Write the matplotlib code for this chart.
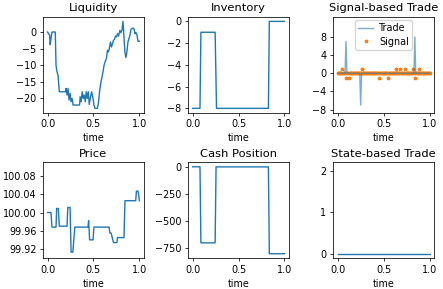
import matplotlib
matplotlib.use("Agg")
import matplotlib.pyplot as plt
import numpy as np

plt.rcParams["font.size"] = 6.9
plt.rcParams["axes.linewidth"] = 0.55
plt.rcParams["xtick.major.size"] = 2.4
plt.rcParams["ytick.major.size"] = 2.4
plt.rcParams["xtick.major.width"] = 0.55
plt.rcParams["ytick.major.width"] = 0.55
plt.rcParams["xtick.major.pad"] = 2.4
plt.rcParams["ytick.major.pad"] = 2.4
plt.rcParams["axes.labelpad"] = 2.8
plt.rcParams["axes.titlepad"] = 4.2
plt.rcParams["lines.linewidth"] = 1.0

# Liquidity
liq_t = [0.000, 0.011, 0.022, 0.029, 0.037, 0.048, 0.073, 0.084, 0.092, 0.103,
         0.114, 0.128, 0.194, 0.201, 0.212, 0.223, 0.234, 0.245, 0.256, 0.267,
         0.278, 0.348, 0.355, 0.366, 0.377, 0.388, 0.399, 0.410, 0.421, 0.432,
         0.443, 0.454, 0.465, 0.480, 0.495, 0.505, 0.516, 0.542, 0.553, 0.568,
         0.582, 0.593, 0.604, 0.615, 0.626, 0.641, 0.652, 0.663, 0.674, 0.685,
         0.696, 0.707, 0.718, 0.729, 0.740, 0.751, 0.762, 0.773, 0.788, 0.799,
         0.810, 0.821, 0.828, 0.835, 0.842, 0.853, 0.864, 0.875, 0.886, 0.897,
         0.908, 0.930, 0.941, 0.952, 0.963, 0.974, 0.985, 1.000]
liq = [0, -0.5, -1, -3.8, -2, 0, 0, 0, -10, -12,
       -13, -18, -18, -17, -19, -17, -20.5, -18.5, -21, -20,
       -22, -22, -19.5, -21, -18, -20, -19, -21, -18, -20,
       -18, -21.8, -20, -18, -20, -22, -23, -23, -21.5, -17.5,
       -15, -13.5, -12, -10, -9, -8, -5.5, -6, -4.8, -3,
       -4.5, -3.5, -2.5, -2.2, -1.2, -1.5, -0.5, -1.2, 0.5, -0.2,
       0.5, 3.2, 0.5, -3, -6, -7.7, -6, -3, -2, -1,
       0.8, 1.2, 1, -0.5, -0.2, -1, -2.8, -2.8]

# Inventory
inv_t = [0, 0.08, 0.09, 0.245, 0.26, 0.825, 0.835, 1.0]
inv = [-8, -8, -1, -1, -8, -8, 0, 0]

# Price
price_t = [0, 0.037, 0.048, 0.092, 0.099, 0.117, 0.128, 0.212, 0.220, 0.245,
           0.256, 0.275, 0.297, 0.440, 0.447, 0.458, 0.495, 0.505, 0.670, 0.678,
           0.692, 0.718, 0.755, 0.762, 0.832, 0.843, 0.960, 0.967, 0.985, 1.0]
price = [100.00, 100.00, 99.968, 99.968, 100.009, 100.009, 99.970, 99.970, 100.011, 100.011,
         99.913, 99.913, 99.968, 99.968, 99.982, 99.940, 99.940, 99.968, 99.968, 99.955,
         99.955, 99.934, 99.934, 99.945, 99.945, 100.026, 100.026, 100.047, 100.047, 100.026]

# Cash position
cash_t = [0, 0.08, 0.09, 0.245, 0.255, 0.825, 0.835, 1.0]
cash = [0, 0, -700, -700, -1, -1, -800, -800]

# Signal-based trade and signal on the time grid
grid_t = np.linspace(0, 1, 101)
trade = [0, 0, 0, 0, 0, 0, 0, 0, 0, 7,
         0, 0, 0, 0, 0, 0, 0, 0, 0, 0,
         0, 0, 0, 0, 0, -7, 0, 0, 0, 0,
         0, 0, 0, 0, 0, 0, 0, 0, 0, 0,
         0, 0, 0, 0, 0, 0, 0, 0, 0, 0,
         0, 0, 0, 0, 0, 0, 0, 0, 0, 0,
         0, 0, 0, 0, 0, 0, 0, 0, 0, 0,
         0, 0, 0, 0, 0, 0, 0, 0, 0, 0,
         0, 0, 0, 0, 8, 0, 0, 0, 0, 0,
         0, 0, 0, 0, 0, 0, 0, 0, 0, 0,
         0]
signal = [0, 0, 0, 0, 0, 1, 0, 0, 0, -1,
          0, 0, -1, 0, 0, 0, 0, 0, 0, 0,
          0, 0, 0, 0, 0, 0, 1, 0, 0, 0,
          0, 0, 0, 0, 0, 0, 0, 0, 0, 0,
          0, 0, 0, 0, 0, -1, 0, 0, 0, 0,
          0, 0, 0, 0, 0, -1, 0, 0, 0, 0,
          0, 0, 0, 0, 1, 0, 0, 0, 1, 0,
          0, 0, 0, 1, 0, 0, 0, 0, 0, 0,
          0, 0, 1, 0, -1, 0, 0, 0, 1, 0,
          0, 0, 0, 0, 0, 0, 0, 0, 0, 0,
          0]

# State-based trade
state_trade = [0] * 101

fig, axs = plt.subplots(2, 3, figsize=(4.43, 2.89), dpi=100)

ax = axs[0, 0]
ax.plot(liq_t, liq)
ax.set_yticks([0, -5, -10, -15, -20])
ax.set_title("Liquidity")

ax = axs[0, 1]
ax.plot(inv_t, inv)
ax.set_yticks([0, -2, -4, -6, -8])
ax.set_title("Inventory")

ax = axs[0, 2]
ax.plot(grid_t, trade, alpha=0.6, zorder=3, label="Trade")
ax.plot(grid_t, signal, "*", color="tab:orange", markersize=2.5, zorder=2, label="Signal")
ax.set_ylim(-8.7, 12.4)
ax.set_yticks([-8, -4, 0, 4, 8])
ax.legend(loc="upper center", fontsize=6.9, borderpad=0.3, labelspacing=0.35,
          handlelength=1.6, handletextpad=0.6, borderaxespad=0.35)
ax.set_title("Signal-based Trade")

ax = axs[1, 0]
ax.plot(price_t, price)
ax.set_ylim(99.90, 100.11)
ax.set_yticks([99.92, 99.96, 100.00, 100.04, 100.08])
ax.ticklabel_format(axis="y", useOffset=False)
ax.set_title("Price")

ax = axs[1, 1]
ax.plot(cash_t, cash)
ax.set_yticks([0, -250, -500, -750])
ax.set_title("Cash Position")

ax = axs[1, 2]
ax.plot(grid_t, state_trade)
ax.set_ylim(-0.1, 2.2)
ax.set_yticks([0, 1, 2])
ax.set_title("State-based Trade")

for a in axs.flat:
    a.set_xlabel("time")
    a.set_xticks([0.0, 0.5, 1.0])

plt.subplots_adjust(left=0.097, right=0.98, top=0.941, bottom=0.107, wspace=0.436, hspace=0.52)
plt.savefig("out.png")
